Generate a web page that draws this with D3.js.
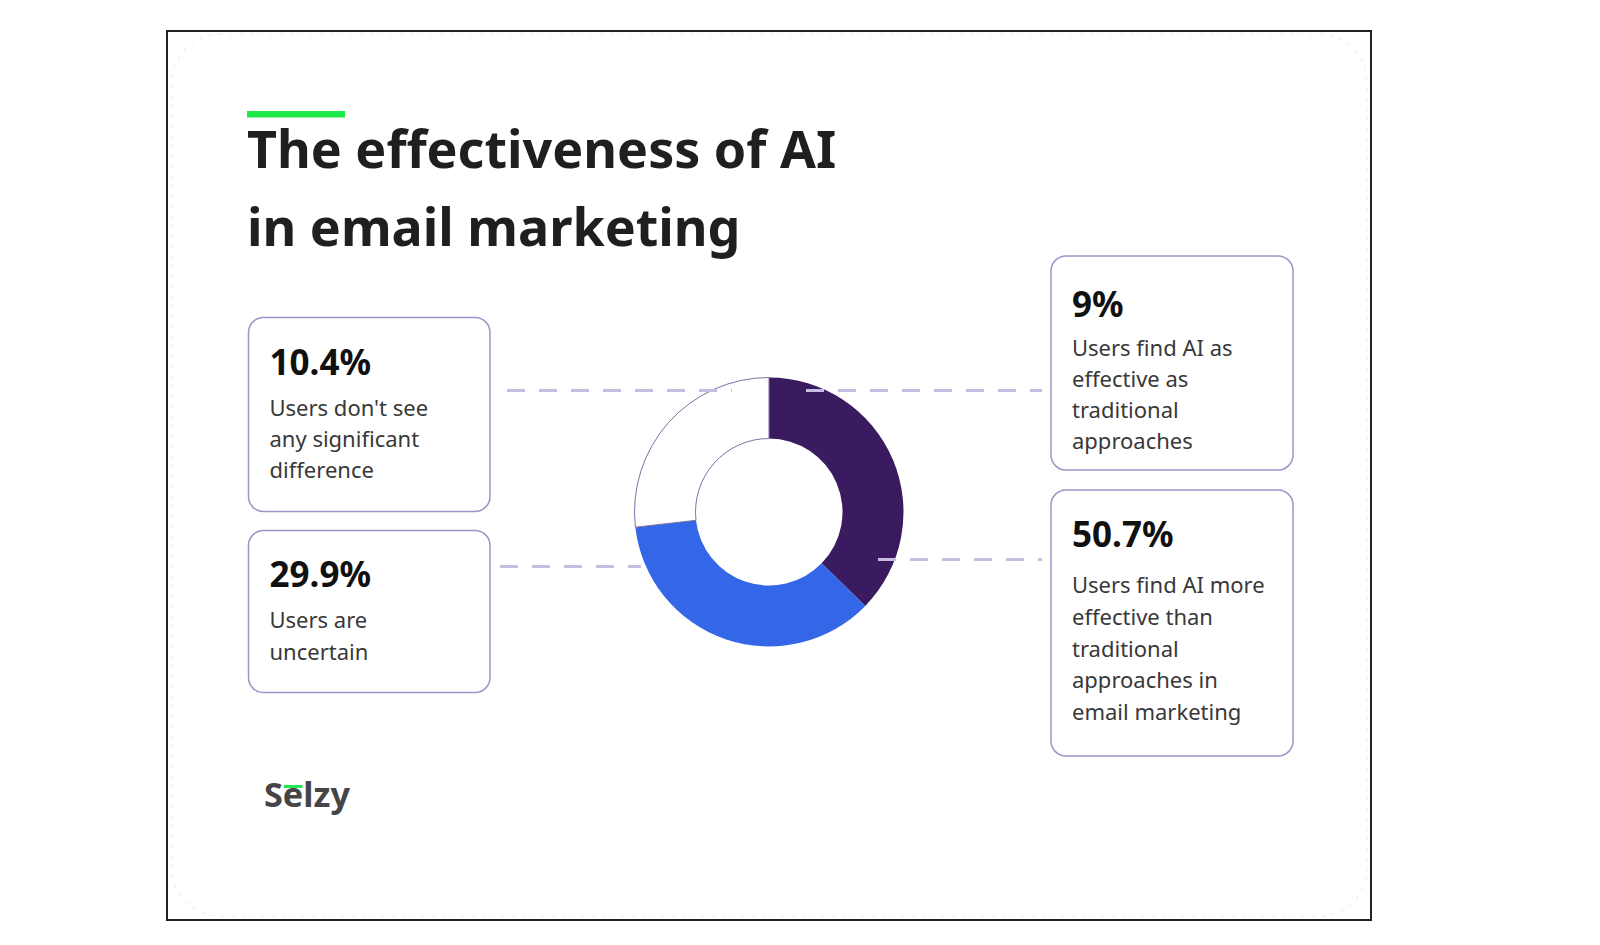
<!DOCTYPE html>
<html>
<head>
<meta charset="utf-8">
<script src="https://cdn.jsdelivr.net/npm/d3@7"></script>
<style>
  html, body { margin: 0; padding: 0; background: #ffffff; }
  svg { display: block; }
</style>
</head>
<body>
<svg id="chart" width="1600" height="945"></svg>
<script>
// ---------------- DATA ----------------
const titleLines = ["The effectiveness of AI", "in email marketing"];
const categories = ["more", "uncertain", "noDifference", "asEffective"];
const values = [50.7, 29.9, 10.4, 9];
const valueLabels = ["50.7%", "29.9%", "10.4%", "9%"];
const descriptions = [
  ["Users find AI more", "effective than", "traditional", "approaches in", "email marketing"],
  ["Users are", "uncertain"],
  ["Users don't see", "any significant", "difference"],
  ["Users find AI as", "effective as", "traditional", "approaches"]
];
// ring segments as drawn in the picture (share of the circle, clockwise from 12 o'clock)
const ringSegments = ["purple", "blue", "white"];
const ringShares = [37.3, 35.9, 26.8];
const ringColors = ["#3b1b5f", "#3467e8", "#ffffff"];
const brand = "Selzy";

// ---------------- DRAW ----------------
const svg = d3.select("#chart");
const FONT = "'Noto Sans', 'Open Sans', sans-serif";

// outer frame
svg.append("rect").attr("x", 167).attr("y", 31).attr("width", 1204).attr("height", 889)
  .attr("fill", "#fff").attr("stroke", "#222").attr("stroke-width", 2);
// faint card outline
svg.append("rect").attr("x", 172).attr("y", 34).attr("width", 1195).attr("height", 882)
  .attr("rx", 48).attr("fill", "none").attr("stroke", "#ececec").attr("stroke-width", 1.2)
  .attr("stroke-dasharray", "3 7");

// title
svg.append("rect").attr("x", 247).attr("y", 111).attr("width", 98).attr("height", 6.5).attr("fill", "#1ee84a");
const title = svg.append("g");
title.selectAll("text").data(titleLines).join("text")
  .attr("x", 247).attr("y", (d, i) => 168 + i * 78)
  .attr("font-family", FONT).attr("font-weight", 700).attr("font-size", 52)
  .attr("fill", "#1f1f1f").text(d => d);

// donut
const cx = 769, cy = 512;
const pie = d3.pie().sort(null).value(d => d);
const arc = d3.arc().innerRadius(73.5).outerRadius(134.5);
const ring = svg.append("g").attr("transform", `translate(${cx},${cy})`);
ring.selectAll("path").data(pie(ringShares)).join("path")
  .attr("d", arc)
  .attr("fill", (d, i) => ringColors[i])
  .attr("stroke", (d, i) => i === 2 ? "#7d70a6" : "none")
  .attr("stroke-width", 1);

// dashed connectors
const connectors = [
  [[507, 390.5], [732, 390.5]],
  [[806, 390.5], [1042, 390.5]],
  [[500, 566.5], [641, 566.5]],
  [[878, 559.5], [1042, 559.5]]
];
svg.append("g").selectAll("line").data(connectors).join("line")
  .attr("x1", d => d[0][0]).attr("y1", d => d[0][1])
  .attr("x2", d => d[1][0]).attr("y2", d => d[1][1])
  .attr("stroke", "#c7bde2").attr("stroke-width", 3).attr("stroke-dasharray", "18 14");

// boxes: layout per category
const boxes = [
  {x: 1051, y: 490, w: 242, h: 266, pct: 547, desc: [593, 625, 657, 688, 720]},
  {x: 248.5, y: 530.5, w: 241.5, h: 162, pct: 587, desc: [628, 660]},
  {x: 248.5, y: 317.5, w: 241.5, h: 194, pct: 375, desc: [416, 447, 478]},
  {x: 1051, y: 256, w: 242, h: 214, pct: 317, desc: [356, 387, 418, 449]}
];
const cards = svg.append("g").selectAll("g").data(categories).join("g");
cards.append("rect")
  .attr("x", (d, i) => boxes[i].x).attr("y", (d, i) => boxes[i].y)
  .attr("width", (d, i) => boxes[i].w).attr("height", (d, i) => boxes[i].h)
  .attr("rx", 15).attr("fill", "#fff").attr("stroke", "#a093c8").attr("stroke-width", 1.5);
cards.append("text")
  .attr("x", (d, i) => boxes[i].x + 21).attr("y", (d, i) => boxes[i].pct)
  .attr("font-family", FONT).attr("font-weight", 700).attr("font-size", 35)
  .attr("fill", "#111").text((d, i) => valueLabels[i]);
cards.each(function(d, i) {
  d3.select(this).selectAll("text.desc").data(descriptions[i]).join("text")
    .attr("class", "desc")
    .attr("x", boxes[i].x + 21).attr("y", (t, j) => boxes[i].desc[j])
    .attr("font-family", FONT).attr("font-weight", 400).attr("font-size", 22)
    .attr("fill", "#383838").text(t => t);
});

// brand
const logo = svg.append("text").attr("x", 264).attr("y", 806.5)
  .attr("font-family", FONT).attr("font-weight", 700).attr("font-size", 27)
  .attr("fill", "#454545").text(brand);
const n = logo.node();
const fs = 27 * 86 / n.getComputedTextLength();
logo.attr("font-size", fs);
const sW = n.getSubStringLength(0, 1), eW = n.getSubStringLength(1, 1);
svg.append("rect").attr("x", 264 + sW + 1).attr("y", 785).attr("width", eW - 2).attr("height", 3).attr("fill", "#1ee84a");
</script>
</body>
</html>
